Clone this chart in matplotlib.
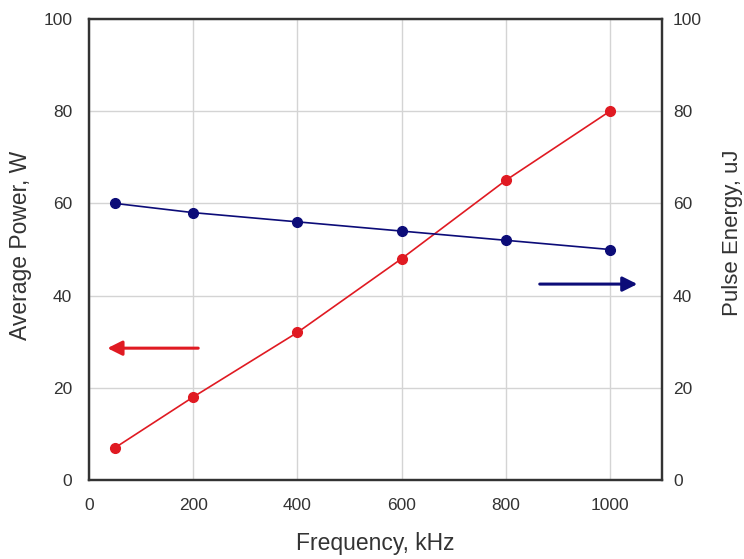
import matplotlib.pyplot as plt

plt.rcParams['font.family'] = ['Liberation Sans', 'DejaVu Sans']

# data
freq = [50, 200, 400, 600, 800, 1000]
avg_power = [7, 18, 32, 48, 65, 80]
pulse_energy = [60, 58, 56, 54, 52, 50]
x_ticks = [0, 200, 400, 600, 800, 1000]
y_ticks = [0, 20, 40, 60, 80, 100]

red = '#e01a22'
navy = '#0c0c78'
txt = '#333333'

fig = plt.figure(figsize=(7.44, 5.59), dpi=100)
ax = fig.add_axes([0.1196, 0.1413, 0.7702, 0.8247])
ax2 = ax.twinx()

ax.plot(freq, avg_power, color=red, linewidth=1.2, marker='o',
        markersize=7, markerfacecolor=red, markeredgecolor=red, zorder=5)
ax2.plot(freq, pulse_energy, color=navy, linewidth=1.2, marker='o',
         markersize=7, markerfacecolor=navy, markeredgecolor=navy, zorder=5)

ax.set_xlim(0, 1100)
ax.set_ylim(0, 100)
ax2.set_ylim(0, 100)
ax.set_xticks(x_ticks)
ax.set_yticks(y_ticks)
ax2.set_yticks(y_ticks)
ax.grid(True, color='#d4d4d4', linewidth=1.0)
ax.set_axisbelow(True)

ax.tick_params(axis='x', length=0, labelsize=12.5, colors=txt, pad=13)
ax.tick_params(axis='y', length=0, labelsize=12.5, colors=txt, pad=12)
ax2.tick_params(axis='y', length=0, labelsize=12.5, colors=txt, pad=8)
for a in (ax, ax2):
    for s in a.spines.values():
        s.set_color(txt)
        s.set_linewidth(1.6)

ax.set_xlabel('Frequency, kHz', fontsize=16.5, color=txt)
ax.set_ylabel('Average Power, W', fontsize=16.5, color=txt)
ax2.set_ylabel('Pulse Energy, uJ', fontsize=16, color=txt)
ax.xaxis.set_label_coords(0.5, -0.113)
ax.yaxis.set_label_coords(-0.1, 0.51)
ax2.yaxis.set_label_coords(1.105, 0.536)

# direction arrows
ax.annotate('', xy=(30, 28.6), xytext=(215, 28.6),
            arrowprops=dict(arrowstyle='-|>', color=red, lw=2.2,
                            mutation_scale=22))
ax2.annotate('', xy=(1058, 42.5), xytext=(860, 42.5),
             arrowprops=dict(arrowstyle='-|>', color=navy, lw=2.2,
                             mutation_scale=22))

plt.savefig('out.png', dpi=100)
